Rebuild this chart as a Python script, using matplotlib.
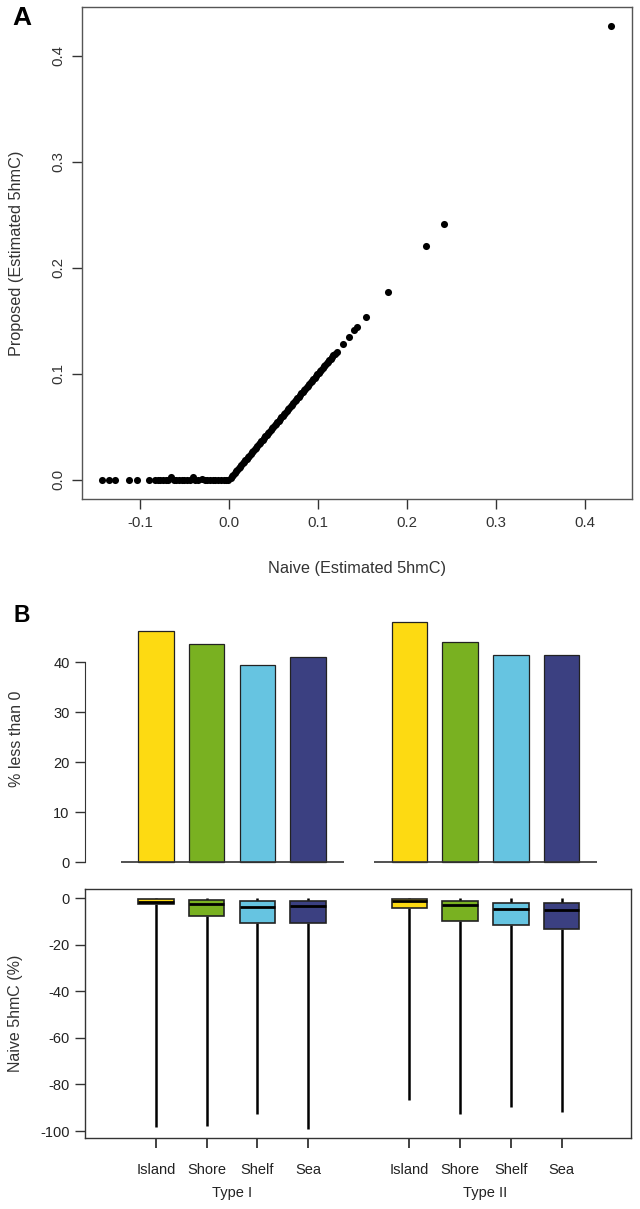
import numpy as np
import matplotlib
matplotlib.use("Agg")
import matplotlib.pyplot as plt

plt.rcParams['font.family'] = ['Liberation Sans', 'DejaVu Sans']
plt.rcParams['axes.unicode_minus'] = False

# Panel A: naive vs proposed estimate of 5hmC
naive = [-0.143, -0.135, -0.128, -0.112, -0.103, -0.090,
         -0.083, -0.080, -0.077, -0.074, -0.071, -0.068, -0.065, -0.062,
         -0.059, -0.056, -0.053, -0.050, -0.047, -0.044, -0.040, -0.038,
         -0.035, -0.030, -0.027, -0.024, -0.021, -0.018, -0.015, -0.012,
         -0.009, -0.006, -0.003, -0.001,
         0.002, 0.005, 0.008, 0.011, 0.014, 0.017, 0.020, 0.023, 0.026,
         0.029, 0.032, 0.035, 0.038, 0.041, 0.044, 0.047, 0.050, 0.053,
         0.056, 0.059, 0.062, 0.065, 0.068, 0.071, 0.074, 0.077, 0.080,
         0.083, 0.086, 0.089, 0.092, 0.095, 0.098, 0.101, 0.104, 0.107,
         0.110, 0.113, 0.116, 0.119, 0.121,
         0.128, 0.135, 0.141, 0.144, 0.154, 0.179, 0.221, 0.242, 0.429]
proposed = [0.0, 0.0, 0.0, 0.0, 0.0, 0.0,
            0.0, 0.0, 0.0, 0.0, 0.0, 0.0, 0.003, 0.0,
            0.0, 0.0, 0.0, 0.0, 0.0, 0.0, 0.003, 0.0,
            0.0, 0.001, 0.0, 0.0, 0.0, 0.0, 0.0, 0.0,
            0.0, 0.0, 0.0, 0.0,
            0.002, 0.005, 0.008, 0.011, 0.014, 0.017, 0.020, 0.023, 0.026,
            0.029, 0.032, 0.035, 0.038, 0.041, 0.044, 0.047, 0.050, 0.053,
            0.056, 0.059, 0.062, 0.065, 0.068, 0.071, 0.074, 0.077, 0.080,
            0.083, 0.086, 0.089, 0.092, 0.095, 0.098, 0.101, 0.104, 0.107,
            0.110, 0.113, 0.116, 0.119, 0.121,
            0.128, 0.135, 0.141, 0.144, 0.154, 0.177, 0.221, 0.241, 0.428]
# more CpGs filling the dense diagonal
naive_b = [0.0035, 0.0065, 0.0095, 0.0125, 0.0155, 0.0185, 0.0215, 0.0245,
           0.0275, 0.0305, 0.0335, 0.0365, 0.0395, 0.0425, 0.0455, 0.0485,
           0.0515, 0.0545, 0.0575, 0.0605, 0.0635, 0.0665, 0.0695, 0.0725,
           0.0755, 0.0785, 0.0815, 0.0845, 0.0875, 0.0905, 0.0935, 0.0965,
           0.0995, 0.1025, 0.1055, 0.1085, 0.1115, 0.1145, 0.1175]
proposed_b = [0.0035, 0.0065, 0.0095, 0.0125, 0.0155, 0.0185, 0.0215, 0.0245,
              0.0275, 0.0305, 0.0335, 0.0365, 0.0395, 0.0425, 0.0455, 0.0485,
              0.0515, 0.0545, 0.0575, 0.0605, 0.0635, 0.0665, 0.0695, 0.0725,
              0.0755, 0.0785, 0.0815, 0.0845, 0.0875, 0.0905, 0.0935, 0.0965,
              0.0995, 0.1025, 0.1055, 0.1085, 0.1115, 0.1145, 0.1175]

# Panel B
regions = ['Island', 'Shore', 'Shelf', 'Sea']
types = ['Type I', 'Type II']
colors = ['#FDDA12', '#79B121', '#66C4E1', '#3B4081']
pct_below0 = {'Type I': [46.2, 43.6, 39.4, 41.0],
              'Type II': [48.0, 44.0, 41.4, 41.4]}
# box stats: whisker low, q1, median, q3, whisker high
box_lo = {'Type I': [-98.3, -98.0, -92.7, -99.3], 'Type II': [-86.7, -92.7, -89.6, -92.0]}
box_q1 = {'Type I': [-2.6, -7.7, -10.9, -10.7], 'Type II': [-4.3, -9.7, -11.6, -13.4]}
box_med = {'Type I': [-1.6, -2.6, -4.0, -3.4], 'Type II': [-1.1, -2.9, -4.9, -5.2]}
box_q3 = {'Type I': [-0.4, -0.9, -1.4, -1.4], 'Type II': [-0.6, -1.4, -1.9, -1.9]}
box_hi = {'Type I': [0.0, 0.0, 0.0, 0.0], 'Type II': [0.0, 0.0, 0.0, 0.0]}

W, H = 640, 1209
fig = plt.figure(figsize=(W / 100, H / 100), dpi=100)


def ax_px(x0, y0, x1, y1):
    return fig.add_axes([x0 / W, 1 - y1 / H, (x1 - x0) / W, (y1 - y0) / H])


def ftext(x, y, s, **kw):
    return fig.text(x / W, 1 - y / H, s, ha='center', va='center', **kw)


ink = '#333333'

# ---- Panel A ----
axA = ax_px(82, 7, 632, 499)
axA.scatter(naive, proposed, s=26, color='black', zorder=3, linewidths=0)
axA.scatter(naive_b, proposed_b, s=26, color='black', zorder=3, linewidths=0)
axA.set_xlim(-0.165, 0.453)
axA.set_ylim(-0.018, 0.446)
axA.set_xticks([-0.1, 0.0, 0.1, 0.2, 0.3, 0.4])
axA.set_xticklabels(['-0.1', '0.0', '0.1', '0.2', '0.3', '0.4'])
axA.set_yticks([0.0, 0.1, 0.2, 0.3, 0.4])
axA.set_yticklabels(['0.0', '0.1', '0.2', '0.3', '0.4'], rotation=90, va='center')
axA.tick_params(length=7, width=1, color=ink, labelsize=10.8, labelcolor=ink, pad=5)
for s in axA.spines.values():
    s.set_color('#555555')
    s.set_linewidth(1)
ftext(357, 568, 'Naive (Estimated 5hmC)', fontsize=11.7, color=ink)
ftext(16.5, 253, 'Proposed (Estimated 5hmC)', fontsize=11.7, color=ink, rotation=90)
ftext(22, 18, 'A', fontsize=19, fontweight='bold')

# positions: groups at 1-4 and 6-9
pos = {'Type I': np.arange(1, 5), 'Type II': np.arange(6, 10)}
xl = (-0.40, 10.37)

# ---- Panel B: bars ----
axB = ax_px(85, 600, 631, 870)
for t in types:
    axB.bar(pos[t], pct_below0[t], width=0.7, color=colors, edgecolor='#222222', linewidth=0.9, zorder=2)
    axB.hlines(0, pos[t][0] - 0.69, pos[t][-1] + 0.7, color=ink, linewidth=1.2, zorder=3)
axB.set_xlim(*xl)
axB.set_ylim(-1.6, 52.4)
for k in ['top', 'right', 'bottom']:
    axB.spines[k].set_visible(False)
axB.spines['left'].set_bounds(0, 40)
axB.spines['left'].set_color(ink)
axB.set_xticks([])
axB.set_yticks([0, 10, 20, 30, 40])
axB.tick_params(axis='y', length=7, width=1, color=ink, labelsize=10.5, labelcolor='#222222', pad=4)
ftext(17, 739, '% less than 0', fontsize=11.5, color=ink, rotation=90)
ftext(22, 615, 'B', fontsize=16.5, fontweight='bold')

# ---- Panel B: boxes ----
axC = ax_px(85, 889, 631, 1138)
for t in types:
    for i, x in enumerate(pos[t]):
        axC.vlines(x, box_lo[t][i], box_q1[t][i], color='black', linewidth=1.8, zorder=2)
        axC.vlines(x, box_q3[t][i], box_hi[t][i], color='black', linewidth=1.8, zorder=2)
        axC.add_patch(plt.Rectangle((x - 0.35, box_q1[t][i]), 0.7, box_q3[t][i] - box_q1[t][i],
                                    facecolor=colors[i], edgecolor='#222222', linewidth=1.2, zorder=3))
        axC.hlines(box_med[t][i], x - 0.35, x + 0.35, color='black', linewidth=2, zorder=4)
axC.set_xlim(*xl)
axC.set_ylim(-103, 3.9)
allpos = np.concatenate([pos['Type I'], pos['Type II']])
axC.set_xticks(allpos)
axC.set_xticklabels(regions * 2, fontsize=10.5, color='#222222')
axC.set_yticks([0, -20, -40, -60, -80, -100])
axC.tick_params(axis='y', length=7, width=1, color=ink, labelsize=10.5, labelcolor='#222222', pad=4)
axC.tick_params(axis='x', length=7, width=1.3, color=ink, pad=11)
for s in axC.spines.values():
    s.set_color(ink)
    s.set_linewidth(1)
ftext(16, 1013, 'Naive 5hmC (%)', fontsize=11.5, color=ink, rotation=90)
for t in types:
    axC.text(pos[t].mean(), -0.22, t, transform=axC.get_xaxis_transform(),
             ha='center', va='center', fontsize=10.5, color='#222222')

fig.savefig('out.png', dpi=100)
